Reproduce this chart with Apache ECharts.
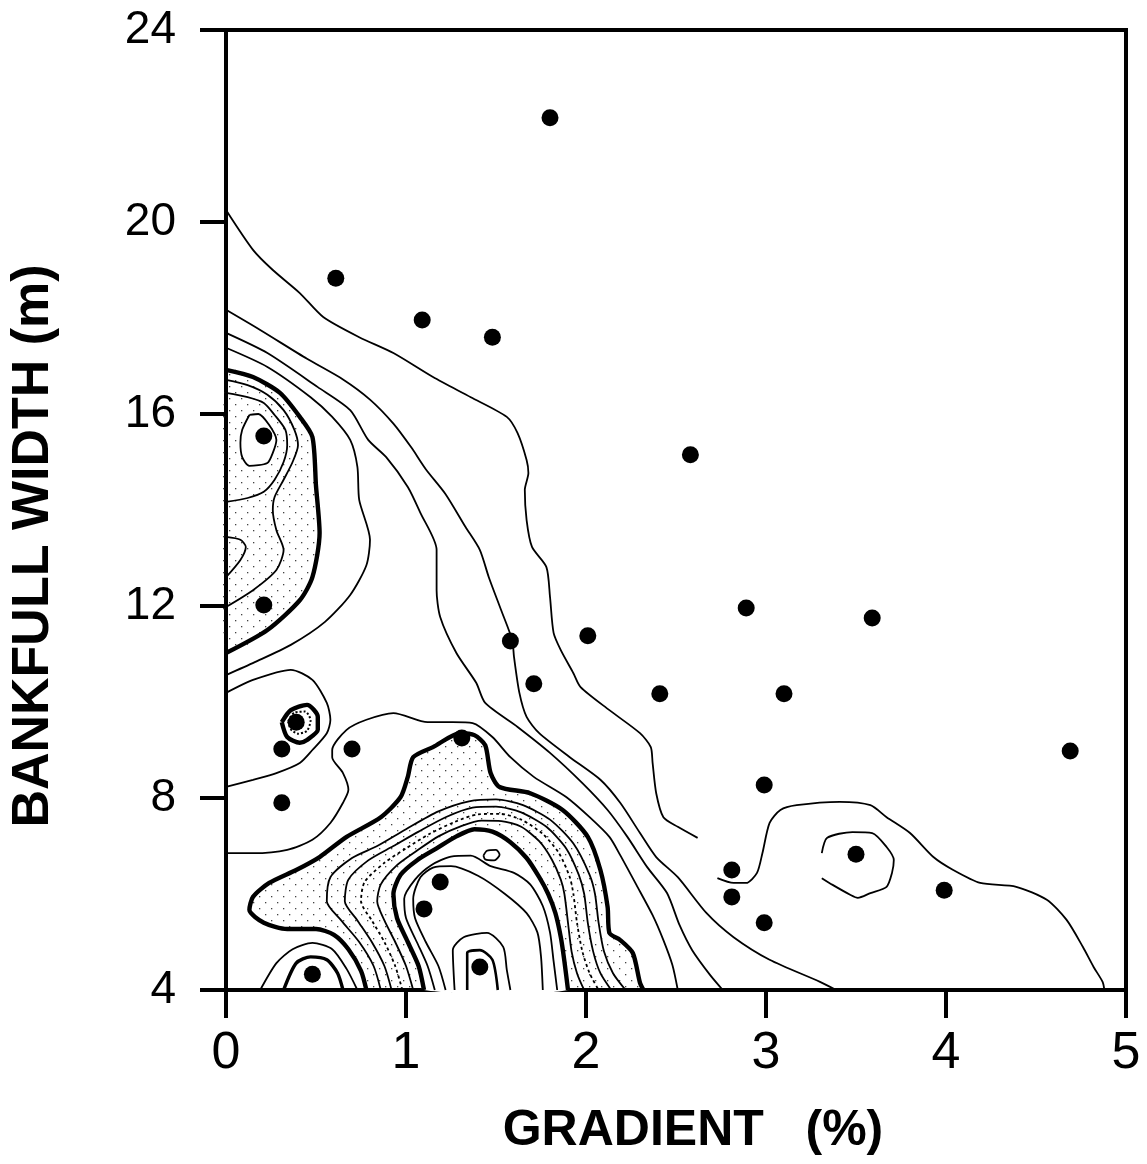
<!DOCTYPE html>
<html>
<head>
<meta charset="utf-8">
<script src="https://cdn.jsdelivr.net/npm/echarts@6/dist/echarts.min.js"></script>
<style>
  html, body { margin: 0; background: #fff; }
  #chart { width: 1147px; height: 1164px; }
</style>
</head>
<body>
<div id="chart"></div>
<script>
// sampled reaches: gradient (%) and bankfull width (m)
const dotGradient = [1.80, 0.61, 1.09, 1.48, 0.21, 2.58, 0.21, 2.89, 3.59, 1.58, 2.01, 1.71, 2.41, 3.10, 0.39,
  0.31, 0.70, 1.31, 4.69, 2.99, 0.31, 3.50, 2.81, 2.81, 3.99, 1.19, 1.10, 2.99, 0.48, 1.41];
const dotWidth = [22.17, 18.83, 17.96, 17.6, 15.54, 15.15, 12.02, 11.96, 11.75, 11.27, 11.38, 10.38, 10.17, 10.17, 9.58,
  9.02, 9.02, 9.25, 8.98, 8.27, 7.9, 6.83, 6.5, 5.94, 6.08, 6.25, 5.69, 5.4, 4.33, 4.48];

// contour lines, [gradient, width] pairs
const lineA = [[0,20.25],[0.15,19.42],[0.26,19.0],[0.41,18.52],[0.54,18.02],[0.74,17.6],[0.93,17.27],[1.15,16.77],
  [1.36,16.35],[1.56,15.94],[1.62,15.6],[1.67,15.04],[1.68,14.77],[1.66,14.42],[1.67,13.79],[1.70,13.23],[1.78,12.81],
  [1.80,12.19],[1.82,11.44],[1.86,11.08],[1.93,10.6],[1.97,10.31],[2.13,9.83],[2.30,9.35],[2.36,9.06],[2.37,8.73],
  [2.39,8.1],[2.43,7.6],[2.51,7.4],[2.62,7.17]];
const lineB = [[0,18.17],[0.19,17.75],[0.45,17.15],[0.65,16.72],[0.8,16.3],[0.93,15.8],[1.03,15.3],[1.11,14.85],
  [1.22,14.33],[1.33,13.65],[1.41,13.17],[1.46,12.6],[1.53,11.9],[1.59,11.29],[1.6,10.94],[1.63,10.19],[1.67,9.69],
  [1.74,9.35],[1.91,8.85],[2.08,8.38],[2.19,7.9],[2.3,7.27],[2.39,6.77],[2.51,6.35],[2.67,5.6],[2.82,5.1],[3.02,4.63],
  [3.3,4.17],[3.39,4.0]];
const lineC = [[0,17.69],[0.23,17.27],[0.51,16.56],[0.69,16.08],[0.79,15.46],[0.89,15.1],[1.01,14.48],[1.08,13.94],
  [1.17,13.17],[1.17,12.33],[1.19,11.77],[1.28,11.02],[1.39,10.4],[1.44,9.98],[1.62,9.48],[1.8,8.94],[1.98,8.31],
  [2.12,7.75],[2.23,7.19],[2.34,6.56],[2.45,6.02],[2.52,5.35],[2.59,4.83],[2.69,4.31],[2.76,4.0]];
const lineD = [[0,17.38],[0.23,16.98],[0.47,16.35],[0.59,15.94],[0.69,15.46],[0.73,14.9],[0.74,14.21],[0.8,13.38],
  [0.78,12.85],[0.69,12.23],[0.55,11.67],[0.36,11.19],[0.16,10.83],[0,10.56]];
const thickT1 = [[0,16.92],[0.15,16.77],[0.3,16.44],[0.41,15.94],[0.48,15.52],[0.5,14.5],[0.52,13.52],[0.48,12.6],
  [0.41,12.12],[0.23,11.5],[0,11.02]];
const innerC1 = [[0,16.71],[0.12,16.6],[0.23,16.4],[0.32,16.08],[0.38,15.67],[0.4,15.35],[0.37,15.0],[0.32,14.63],
  [0.27,14.27],[0.26,14.0],[0.28,13.58],[0.32,13.17],[0.28,12.75],[0.15,12.33],[0,11.98]];
const innerC3 = [[0,16.44],[0.12,16.35],[0.21,16.23],[0.27,15.98],[0.33,15.67],[0.34,15.35],[0.32,15.0],[0.27,14.63],
  [0.21,14.38],[0.12,14.25],[0,14.17]];
const loopC2 = [[0.13,15.98],[0.18,16.0],[0.24,15.77],[0.28,15.46],[0.26,15.19],[0.23,14.98],[0.13,14.92],[0.09,15.1],
  [0.08,15.4],[0.09,15.67],[0.13,15.98]];
const bumpC4 = [[0,13.44],[0.08,13.38],[0.11,13.23],[0.08,12.96],[0,12.6]];
const lineE = [[0,10.19],[0.15,10.46],[0.36,10.67],[0.48,10.46],[0.56,9.98],[0.58,9.63],[0.56,9.35],[0.48,9.0],
  [0.41,8.73],[0.28,8.52],[0.15,8.38],[0,8.23]];
const ringOuter = [[0.31,9.58],[0.36,9.83],[0.45,9.94],[0.51,9.69],[0.51,9.42],[0.45,9.21],[0.41,9.15],[0.34,9.27],[0.31,9.58]];
const ringInner = [[0.345,9.6],[0.38,9.78],[0.44,9.8],[0.47,9.62],[0.45,9.4],[0.4,9.34],[0.36,9.43],[0.345,9.6]];
const lineF = [[0,6.85],[0.15,6.85],[0.34,6.92],[0.48,7.13],[0.58,7.48],[0.65,7.9],[0.68,8.17],[0.65,8.52],[0.59,8.85],
  [0.59,9.0],[0.67,9.42],[0.78,9.63],[0.93,9.77],[1.12,9.58],[1.26,9.58],[1.37,9.56],[1.48,9.27],[1.58,8.85],[1.71,8.44],
  [1.89,8.02],[2.02,7.6],[2.13,7.19],[2.19,6.81],[2.28,6.19],[2.37,5.56],[2.43,5.04],[2.48,4.52],[2.51,4.0]];
const thickT2 = [[0.78,4.0],[0.75,4.4],[0.68,4.85],[0.6,5.15],[0.5,5.27],[0.34,5.27],[0.21,5.4],[0.13,5.67],[0.15,5.94],
  [0.24,6.23],[0.39,6.5],[0.52,6.77],[0.67,7.19],[0.86,7.6],[0.97,8.02],[1.01,8.44],[1.04,8.85],[1.15,9.06],[1.3,9.35],
  [1.38,9.31],[1.44,9.1],[1.47,8.52],[1.52,8.23],[1.69,8.1],[1.87,7.75],[2.01,7.19],[2.08,6.5],[2.12,5.73],[2.13,5.19],
  [2.19,5.04],[2.26,4.77],[2.3,4.15],[2.32,4.0]];
const arcB1 = [[0.86,4.0],[0.82,4.5],[0.74,5.0],[0.64,5.45],[0.56,5.85],[0.58,6.35],[0.7,6.75],[0.84,7.0],[1.0,7.35],
  [1.18,7.72],[1.35,7.93],[1.5,7.97],[1.65,7.85],[1.8,7.55],[1.93,7.05],[2.02,6.4],[2.05,6.0],[2.07,5.4],[2.1,4.8],
  [2.15,4.35],[2.22,4.0]];
const arcB2 = [[0.92,4.0],[0.88,4.5],[0.81,5.0],[0.73,5.45],[0.66,5.85],[0.68,6.3],[0.79,6.7],[0.93,7.0],[1.07,7.3],
  [1.22,7.6],[1.37,7.8],[1.5,7.82],[1.64,7.7],[1.78,7.4],[1.89,6.95],[1.96,6.4],[1.99,6.0],[2.01,5.4],[2.04,4.8],
  [2.08,4.35],[2.14,4.0]];
const arcB3 = [[0.98,4.0],[0.94,4.5],[0.88,5.0],[0.81,5.45],[0.75,5.85],[0.77,6.25],[0.88,6.65],[1.0,6.95],[1.13,7.25],
  [1.27,7.5],[1.4,7.66],[1.52,7.67],[1.64,7.55],[1.76,7.25],[1.85,6.85],[1.91,6.35],[1.93,6.0],[1.95,5.4],[1.98,4.8],
  [2.02,4.35],[2.07,4.0]];
const arcB4 = [[1.04,4.0],[1.0,4.5],[0.94,5.0],[0.88,5.45],[0.84,5.85],[0.86,6.2],[0.95,6.6],[1.06,6.9],[1.18,7.2],
  [1.31,7.42],[1.42,7.53],[1.53,7.52],[1.64,7.4],[1.74,7.1],[1.81,6.72],[1.86,6.3],[1.88,6.0],[1.9,5.4],[1.92,4.8],
  [1.95,4.35],[1.99,4.0]];
const thickT3 = [[1.1,4.0],[1.07,4.5],[1.01,5.0],[0.95,5.5],[0.93,6.0],[0.97,6.4],[1.06,6.7],[1.17,6.95],[1.28,7.2],
  [1.38,7.35],[1.48,7.3],[1.58,7.08],[1.67,6.75],[1.74,6.35],[1.79,6.0],[1.83,5.6],[1.86,5.1],[1.88,4.6],[1.9,4.0]];
const arcD1 = [[1.16,4.0],[1.12,4.5],[1.06,5.0],[1.0,5.5],[0.99,5.9],[1.05,6.3],[1.14,6.6],[1.25,6.78],[1.36,6.8],
  [1.47,6.58],[1.6,6.44],[1.69,6.2],[1.76,5.75],[1.8,5.2],[1.82,4.6],[1.84,4.0]];
const arcD2 = [[1.22,4.0],[1.18,4.5],[1.11,5.0],[1.05,5.5],[1.04,5.9],[1.08,6.35],[1.15,6.55],[1.25,6.58],[1.4,6.38],
  [1.55,6.0],[1.67,5.6],[1.73,5.2],[1.75,4.7],[1.76,4.0]];
const loopLowOuter = [[1.27,4.0],[1.26,4.83],[1.32,5.1],[1.45,5.19],[1.54,4.9],[1.56,4.42],[1.58,4.0]];
const loopLowInner = [[1.34,4.0],[1.34,4.77],[1.41,4.83],[1.48,4.63],[1.51,4.0]];
const ovalWhite = [[1.43,6.8],[1.45,6.9],[1.5,6.92],[1.52,6.82],[1.49,6.7],[1.44,6.72],[1.43,6.8]];
const cornerOuter = [[0.19,4.0],[0.28,4.56],[0.37,4.85],[0.48,4.98],[0.59,4.85],[0.67,4.44],[0.73,4.0]];
const cornerInner = [[0.32,4.0],[0.39,4.56],[0.47,4.69],[0.56,4.63],[0.62,4.35],[0.65,4.0]];
const lineG = [[2.73,6.33],[2.82,6.23],[2.89,6.23],[2.95,6.44],[2.98,6.85],[3.02,7.48],[3.08,7.75],[3.17,7.85],
  [3.41,7.92],[3.58,7.85],[3.67,7.6],[3.8,7.27],[3.93,6.77],[4.04,6.5],[4.19,6.23],[4.39,6.15],[4.56,5.88],[4.67,5.46],
  [4.76,4.9],[4.82,4.48],[4.87,4.17],[4.88,4.0]];
const loopH = [[3.31,6.85],[3.34,7.17],[3.48,7.29],[3.59,7.27],[3.67,6.98],[3.71,6.71],[3.7,6.44],[3.67,6.15],
  [3.58,6.02],[3.51,5.92],[3.47,5.98],[3.37,6.19],[3.31,6.33]];

// dotted shading used between the heavy contours
const stipple = document.createElement('canvas');
stipple.width = 12;
stipple.height = 12;
const sctx = stipple.getContext('2d');
sctx.fillStyle = '#444';
sctx.fillRect(1, 2, 1.3, 1.3);
sctx.fillRect(7, 8, 1.3, 1.3);

const polySeries = (pts, fill, z) => ({
  type: 'custom',
  z: z,
  silent: true,
  data: [0],
  renderItem: (params, api) => ({
    type: 'polygon',
    shape: { points: pts.map(p => api.coord(p)), smooth: 0.25 },
    style: { fill: fill, stroke: null }
  })
});

const contour = (pts, width, type) => ({
  type: 'line',
  data: pts,
  symbol: 'none',
  smooth: 0.25,
  silent: true,
  z: 3,
  lineStyle: { color: '#000', width: width, type: type || 'solid' }
});

const thin = 1.8, thick = 4.4;

const chart = echarts.init(document.getElementById('chart'));
chart.setOption({
  animation: false,
  backgroundColor: '#fff',
  grid: { left: 226, right: 21, top: 30, bottom: 174, show: true, borderColor: '#000', borderWidth: 4 },
  xAxis: {
    type: 'value', min: 0, max: 5, interval: 1,
    name: 'GRADIENT   (%)', nameLocation: 'middle', nameGap: 116,
    nameTextStyle: { fontSize: 50, fontWeight: 'bold', color: '#000', fontFamily: 'Liberation Sans', padding: [0, 0, 0, 34] },
    axisLine: { lineStyle: { color: '#000', width: 4 } },
    axisTick: { length: 28, lineStyle: { color: '#000', width: 4 } },
    axisLabel: { fontSize: 52, color: '#000', margin: 38, fontFamily: 'Liberation Sans, sans-serif' },
    splitLine: { show: false }
  },
  yAxis: {
    type: 'value', min: 4, max: 24, interval: 4,
    name: 'BANKFULL WIDTH (m)', nameLocation: 'middle', nameGap: 166,
    nameTextStyle: { fontSize: 52, fontWeight: 'bold', color: '#000', fontFamily: 'Liberation Sans', padding: [0, 72, 0, 0] },
    axisLine: { lineStyle: { color: '#000', width: 4 } },
    axisTick: { length: 26, lineStyle: { color: '#000', width: 4 } },
    axisLabel: { fontSize: 46, color: '#000', margin: 50, fontFamily: 'Liberation Sans, sans-serif' },
    splitLine: { show: false }
  },
  series: [
    polySeries(thickT1, { image: stipple, repeat: 'repeat' }, 1),
    polySeries(loopC2, '#fff', 2),
    polySeries(thickT2, { image: stipple, repeat: 'repeat' }, 1),
    polySeries(thickT3, '#fff', 2),
    contour(lineA, thin), contour(lineB, thin), contour(lineC, thin), contour(lineD, thin),
    contour(thickT1, thick), contour(innerC1, thin), contour(innerC3, thin), contour(loopC2, thin), contour(bumpC4, thin),
    contour(lineE, thin), contour(ringOuter, thick), contour(ringInner, 2, 'dotted'),
    contour(lineF, thin), contour(thickT2, thick),
    contour(arcB1, thin), contour(arcB2, thin), contour(arcB3, thin, [3, 3]), contour(arcB4, thin),
    contour(thickT3, thick), contour(arcD1, thin), contour(arcD2, thin),
    contour(loopLowOuter, thin), contour(loopLowInner, 2.6), contour(ovalWhite, thin),
    contour(cornerOuter, thin), contour(cornerInner, 3.4),
    contour(lineG, thin), contour(loopH, thin),
    {
      type: 'scatter',
      data: dotGradient.map((g, i) => [g, dotWidth[i]]),
      symbolSize: 17,
      itemStyle: { color: '#000', opacity: 1 },
      z: 5
    }
  ]
});
</script>
</body>
</html>
